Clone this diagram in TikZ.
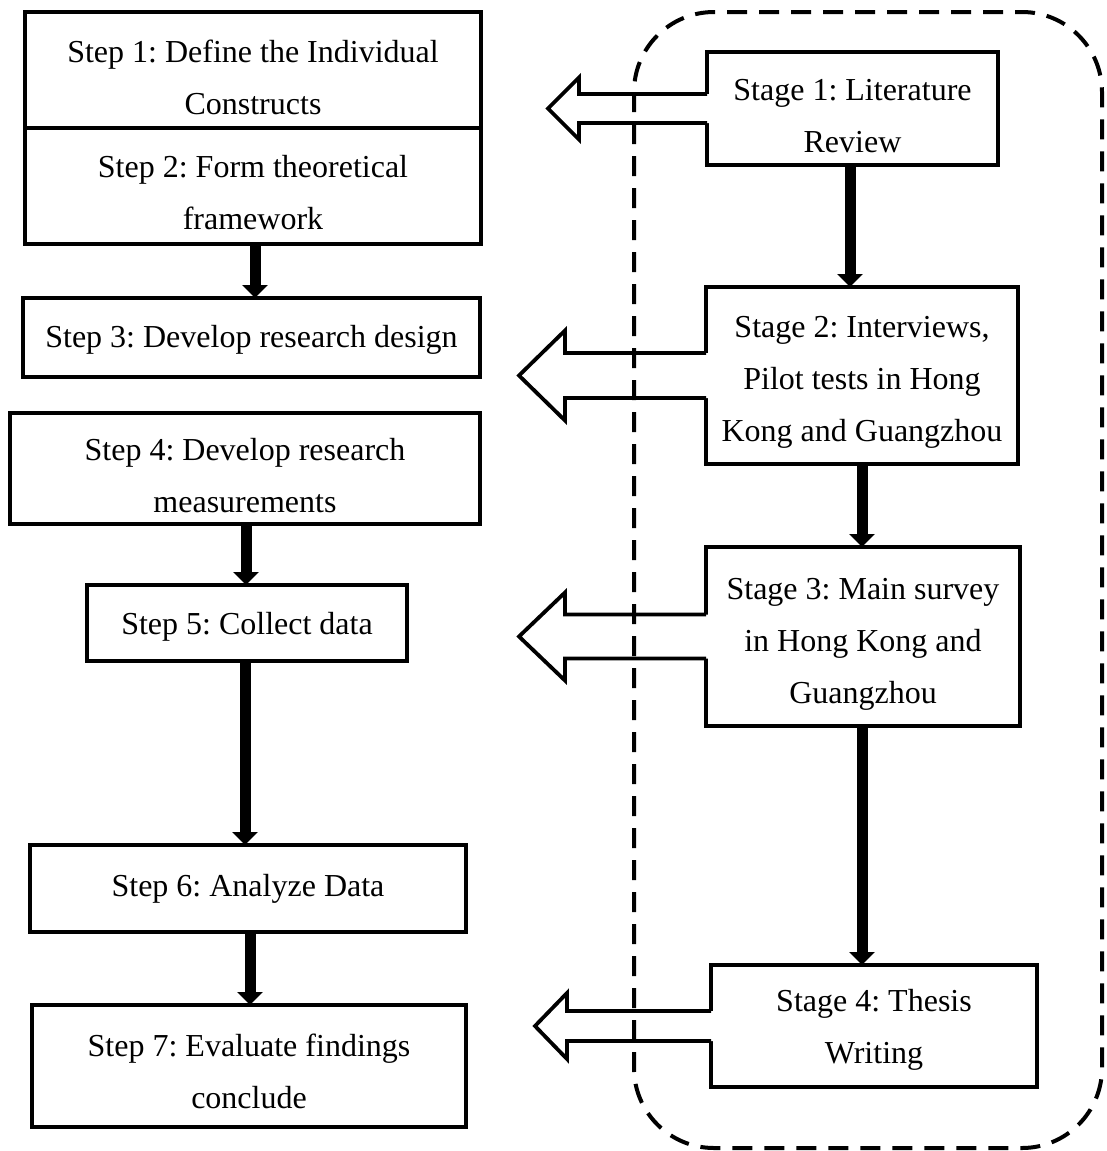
\documentclass[tikz,border=0pt]{standalone}
\usepackage{fontspec}
\setmainfont{Liberation Serif}
\frenchspacing
\usetikzlibrary{arrows.meta,calc}

\tikzset{
  box/.style={draw, line width=2pt, rectangle, inner sep=0pt, outer sep=0pt, fill=white},
  txt/.style={align=center, inner sep=0pt, font=\fontsize{16}{26}\selectfont},
  flow/.style={line width=5.5pt, -{Triangle[width=12.5pt,length=6.5pt]}},
  hollow/.style={line width=1.9pt, line join=miter},
  frame/.style={line width=2pt, dash pattern=on 10pt off 6pt, rounded corners=40pt},
}

% Block arrow leaving the west side of a node:
% #1 node, #2 tip offset, #3 head-base offset, #4 head half-width, #5 shaft half-width
\newcommand\hollowarrow[5]{%
  \fill[white] ($(#1.west)+(3,-#5)$) -- ($(#1.west)+(-#3,-#5)$)
    -- ($(#1.west)+(-#3,-#4)$) -- ($(#1.west)+(-#2,0)$)
    -- ($(#1.west)+(-#3,#4)$) -- ($(#1.west)+(-#3,#5)$)
    -- ($(#1.west)+(3,#5)$) -- cycle;
  \draw[hollow] ($(#1.west)+(0,-#5)$) -- ($(#1.west)+(-#3,-#5)$)
    -- ($(#1.west)+(-#3,-#4)$) -- ($(#1.west)+(-#2,0)$)
    -- ($(#1.west)+(-#3,#4)$) -- ($(#1.west)+(-#3,#5)$)
    -- ($(#1.west)+(0,#5)$);
}

\begin{document}
\begin{tikzpicture}[x=0.5pt, y=-0.5pt]
\useasboundingbox (0,0) rectangle (1107,1151);

% research steps
\node[box, minimum width=228pt, minimum height=58pt] (s1) at (253,70) {};
\node[txt] (s1t) at ([yshift=-3.5pt]s1.center) {Step 1: Define the Individual\\Constructs};
\node[box, minimum width=228pt, minimum height=58pt] (s2) at (253,186) {};
\node[txt] (s2t) at ([yshift=-3.5pt]s2.center) {Step 2: Form theoretical\\framework};
\node[box, minimum width=228.5pt, minimum height=39.5pt] (s3) at (251.5,337.5) {};
\node[txt] (s3t) at ([yshift=-1pt]s3.center) {Step 3: Develop research design};
\node[box, minimum width=235pt, minimum height=55.5pt] (s4) at (245,468.5) {};
\node[txt] (s4t) at ([yshift=-3.5pt]s4.center) {Step 4: Develop research\\measurements};
\node[box, minimum width=160pt, minimum height=38pt] (s5) at (247,623) {};
\node[txt] (s5t) at ([yshift=-2pt]s5.center) {Step 5: Collect data};
\node[box, minimum width=218pt, minimum height=43.5pt] (s6) at (248,888.5) {};
\node[txt] (s6t) at ([yshift=0pt]s6.center) {Step 6: Analyze Data};
\node[box, minimum width=217pt, minimum height=61pt] (s7) at (249,1066) {};
\node[txt] (s7t) at ([yshift=-2.5pt]s7.center) {Step 7: Evaluate findings\\conclude};

% study stages
\node[box, minimum width=145.5pt, minimum height=56.5pt] (g1) at (852.5,108.5) {};
\node[txt] (g1t) at ([yshift=-4pt]g1.center) {Stage 1: Literature\\Review};
\node[box, minimum width=156pt, minimum height=88.5pt] (g2) at (862,375.5) {};
\node[txt] (g2t) at ([yshift=-3.5pt]g2.center) {Stage 2: Interviews,\\Pilot tests in Hong\\Kong and Guangzhou};
\node[box, minimum width=157pt, minimum height=89.5pt] (g3) at (863,636.5) {};
\node[txt] (g3t) at ([yshift=-4pt]g3.center) {Stage 3: Main survey\\in Hong Kong and\\Guangzhou};
\node[box, minimum width=163pt, minimum height=61pt] (g4) at (874,1026) {};
\node[txt] (g4t) at ([yshift=-2pt]g4.center) {Stage 4: Thesis\\Writing};

% block arrows from stages towards steps
\hollowarrow{g1}{159}{128}{31}{14.5}
\hollowarrow{g2}{187}{141}{45}{22.5}
\hollowarrow{g3}{187}{141}{44}{22}
\hollowarrow{g4}{176}{144}{33}{15}

% flow between steps
\draw[flow] (s2.south -| 255,0) -- (s3.north -| 255,0);
\draw[flow] (s4.south -| 246,0) -- (s5.north -| 246,0);
\draw[flow] (s5.south -| 245,0) -- (s6.north -| 245,0);
\draw[flow] (s6.south -| 250,0) -- (s7.north -| 250,0);

% flow between stages
\draw[flow] (g1.south -| 850,0) -- (g2.north -| 850,0);
\draw[flow] (g2.south -| 862,0) -- (g3.north -| 862,0);
\draw[flow] (g3.south -| 862,0) -- (g4.north -| 862,0);

% dashed frame around the stages
\draw[frame] (634,12) rectangle (1102,1148);
\end{tikzpicture}
\end{document}
